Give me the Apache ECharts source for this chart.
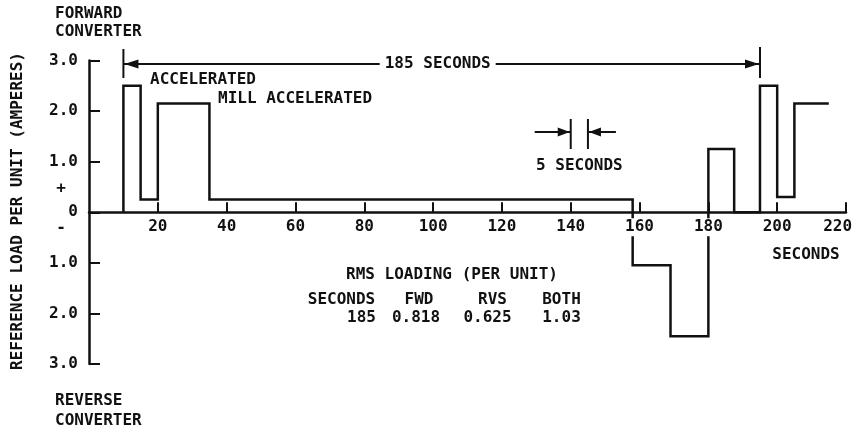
<!DOCTYPE html>
<html><head><meta charset="utf-8">
<script src="https://cdn.jsdelivr.net/npm/echarts@6/dist/echarts.min.js"></script>
<style>html,body{margin:0;padding:0;background:#fff}#c{width:857px;height:435px}</style>
</head><body><div id="c"></div>
<script>
// ---- data ----
const timeSec = [10, 10, 15, 15, 20, 20, 35, 35, 158, 158, 169, 169, 180, 180, 187.5, 187.5, 195, 195, 200, 200, 205, 205, 215];
const loadPU  = [0, 2.5, 2.5, 0.25, 0.25, 2.15, 2.15, 0.25, 0.25, -1.05, -1.05, -2.45, -2.45, 1.25, 1.25, 0, 0, 2.5, 2.5, 0.3, 0.3, 2.15, 2.15];
const xTickValues = [20, 40, 60, 80, 100, 120, 140, 160, 180, 200, 220];
const xTickLabels = ['20', '40', '60', '80', '100', '120', '140', '160', '180', '200', '220'];
const yTickValues = [3, 2, 1, 0, -1, -2, -3];
const yTickLabels = ['3.0', '2.0', '1.0', '0', '1.0', '2.0', '3.0'];
const cycleSpan = [10, 195];
const cycleLabel = '185 SECONDS';
const intervalSpan = [140, 145];
const intervalLabel = '5 SECONDS';
const rmsTitle = 'RMS LOADING (PER UNIT)';
const rmsHeaders = ['SECONDS', 'FWD', 'RVS', 'BOTH'];
const rmsValues = ['185', '0.818', '0.625', '1.03'];
const yTitle = 'REFERENCE LOAD PER UNIT (AMPERES)';
const xUnit = 'SECONDS';

// ---- chart ----
const FONT = '"DejaVu Sans Mono", monospace';
const FW = 'bold ';
const INK = '#111';
const chart = echarts.init(document.getElementById('c'), null, {renderer: 'canvas'});
const seriesData = timeSec.map((t, i) => [t, loadPU[i]]);

chart.setOption({
  animation: false,
  backgroundColor: '#fff',
  grid: {left: 89, right: 11, top: 60.5, bottom: 71, containLabel: false},
  xAxis: {
    type: 'value', min: 0, max: 220, interval: 20, z: 5,
    axisLine: {onZero: true, lineStyle: {color: INK, width: 2.5}},
    axisTick: {inside: true, length: 10, lineStyle: {color: INK, width: 2},
      customValues: xTickValues},
    axisLabel: {show: false},
    splitLine: {show: false}
  },
  yAxis: {
    type: 'value', min: -3, max: 3, interval: 1,
    axisLine: {show: true, lineStyle: {color: INK, width: 2.5}},
    axisTick: {show: true, inside: true, length: 11, lineStyle: {color: INK, width: 2}},
    axisLabel: {
      color: INK, fontFamily: FONT, fontWeight: 'bold', fontSize: 16, margin: 11,
      formatter: v => { const i = yTickValues.indexOf(v); return i >= 0 ? yTickLabels[i] : ''; }
    },
    splitLine: {show: false}
  },
  series: [{
    type: 'line', data: seriesData, showSymbol: false, symbol: 'none',
    lineStyle: {color: INK, width: 2.5, join: 'miter'}, z: 3
  }]
});

function px(x, y) { return chart.convertToPixel({gridIndex: 0}, [x, y]); }
function txt(text, x, y, align, extra) {
  return Object.assign({type: 'text', z: 10, style: {
    text: text, x: x, y: y, fill: INK, font: FW + '16px ' + FONT,
    textAlign: align || 'left', textVerticalAlign: 'middle'
  }}, extra || {});
}
function line(x1, y1, x2, y2, w) {
  return {type: 'line', z: 10, shape: {x1, y1, x2, y2}, style: {stroke: INK, lineWidth: w || 2}};
}
function arrow(tipX, y, dir, len) {
  const b = tipX - dir * len;
  return {type: 'polygon', z: 10, shape: {points: [[tipX, y], [b, y - 4.5], [b, y + 4.5]]}, style: {fill: INK}};
}

const g = [];
const W = chart.getWidth();
// x tick labels sitting on the zero line, white behind them
xTickValues.forEach((v, i) => {
  const p = px(v, 0);
  const half = xTickLabels[i].length * 4.8 + 1;
  const cx = Math.min(p[0], W - 4 - half);
  g.push({type: 'text', z: 12, style: {
    text: xTickLabels[i], x: cx, y: p[1] + 15, fill: INK, font: FW + '16px ' + FONT,
    textAlign: 'center', textVerticalAlign: 'middle',
    backgroundColor: '#fff', padding: [1, 1, 1, 1]}});
});

// 185 seconds dimension
const a = px(cycleSpan[0], 0)[0], b = px(cycleSpan[1], 0)[0];
const yDim = 64;
g.push(line(a, 49, a, 78, 2));
g.push(line(b, 47, b, 78, 2));
const mid = (a + b) / 2 - 4;
g.push(line(a, yDim, mid - 58, yDim, 2));
g.push(line(mid + 58, yDim, b, yDim, 2));
g.push(arrow(a + 1, yDim, -1, 14));
g.push(arrow(b - 1, yDim, 1, 14));
g.push(txt(cycleLabel, mid, yDim, 'center'));

// 5 seconds marker
const c1 = px(intervalSpan[0], 0)[0], c2 = px(intervalSpan[1], 0)[0];
const yInt = 132;
g.push(line(c1, 119, c1, 149, 2));
g.push(line(c2, 119, c2, 149, 2));
g.push(line(c1 - 36, yInt, c1, yInt, 2));
g.push(line(c2, yInt, c2 + 28, yInt, 2));
g.push(arrow(c1 - 1, yInt, 1, 12));
g.push(arrow(c2 + 1, yInt, -1, 12));
g.push(txt(intervalLabel, (c1 + c2) / 2, 166, 'center'));

// labels
g.push(txt('ACCELERATED', 150, 80));
g.push(txt('MILL ACCELERATED', 218, 99));
g.push(txt('FORWARD', 55, 14));
g.push(txt('CONVERTER', 55, 32));
g.push(txt('REVERSE', 55, 401));
g.push(txt('CONVERTER', 55, 421));
g.push(txt('+', 61, 189, 'center'));
g.push(txt('-', 61, 228, 'center'));
g.push(txt(xUnit, 806, 255, 'center'));
g.push({type: 'text', z: 10, x: 18, y: 211, rotation: Math.PI / 2, style: {
  text: yTitle, x: 0, y: 0, fill: INK, font: FW + '16px ' + FONT, textAlign: 'center', textVerticalAlign: 'middle'}});

// RMS table
g.push(txt(rmsTitle, 452, 275, 'center'));
const headX = [341.5, 419, 492.5, 561.5];
const valX = [361.5, 416, 487.5, 561.5];
rmsHeaders.forEach((h, i) => g.push(txt(h, headX[i], 300, 'center')));
rmsValues.forEach((v, i) => g.push(txt(v, valX[i], 318, 'center')));

chart.setOption({graphic: g});
</script></body></html>
